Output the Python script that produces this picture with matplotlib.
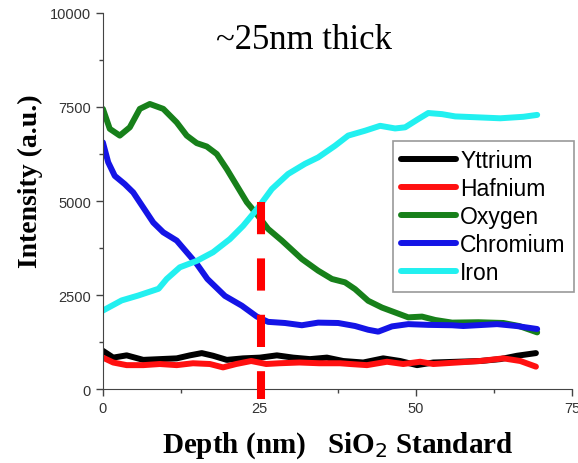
import matplotlib.pyplot as plt
from matplotlib.ticker import MultipleLocator

# depth (nm) / intensity (a.u.)
yttrium_x = [0, 1.65, 3.8, 6.45, 9.1, 11.8, 13.9, 15.8, 17.6, 19.8, 22.4, 25.1, 27.8, 30.4, 33.1, 35.8,
             38.4, 41.6, 44.8, 47.5, 50.2, 52.8, 56.6, 60.3, 63.5, 66.2, 69.2]
yttrium_y = [1020, 840, 900, 780, 800, 820, 900, 960, 890, 780, 820, 840, 900, 840, 800, 840,
             750, 710, 820, 750, 640, 710, 730, 750, 800, 890, 960]

hafnium_x = [0, 1.65, 3.8, 6.45, 9.1, 11.8, 14.4, 17.1, 19.2, 21.3, 23.7, 26.1, 28.2, 31.4, 34.6, 37.9,
             39.5, 42.2, 45.4, 48, 50.7, 52.8, 56.6, 60.3, 64, 66.7, 69.2]
hafnium_y = [840, 710, 640, 640, 670, 640, 690, 670, 580, 670, 750, 670, 690, 710, 690, 690,
             670, 640, 730, 670, 730, 670, 710, 750, 820, 750, 600]

oxygen_x = [0, 1.1, 2.7, 4.3, 5.9, 7.5, 9.65, 11.8, 13.4, 15, 16.6, 18.2, 19.8, 21.4, 23, 24.6, 26.4,
            28.6, 31.8, 34.4, 36.6, 38.7, 40.3, 42.4, 44.6, 46.7, 48.8, 51, 53.1, 55.8, 60, 64, 66.5, 69.4]
oxygen_y = [7450, 6920, 6740, 6960, 7450, 7580, 7450, 7090, 6740, 6540, 6450, 6250, 5850, 5410, 4970, 4650, 4260,
            3950, 3460, 3150, 2930, 2840, 2660, 2350, 2170, 2040, 1910, 1930, 1840, 1770, 1780, 1760, 1680, 1510]

chromium_x = [0, 0.85, 1.9, 3.5, 4.85, 6.45, 8.05, 9.65, 11.8, 13.4, 15, 16.7, 19.5, 22.2, 24.6, 26.4,
              29.1, 31.8, 34.4, 37.6, 40.3, 42.4, 44, 46.2, 48.8, 52, 55.8, 57.6, 63, 66.1, 69.4]
chromium_y = [6560, 6030, 5670, 5450, 5230, 4830, 4430, 4170, 3950, 3640, 3330, 2930, 2480, 2220, 1930, 1790,
              1760, 1700, 1770, 1760, 1680, 1580, 1530, 1670, 1730, 1710, 1700, 1680, 1730, 1680, 1600]

iron_x = [0, 3, 5.65, 8.9, 10.2, 12.3, 15, 17.6, 20.3, 22.4, 24.7, 27, 29.6, 32.3, 34.4, 37.1, 39.2,
          41.9, 44.3, 46.7, 48.3, 50.4, 52, 54.2, 56.3, 59.2, 63.5, 67.2, 69.4]
iron_y = [2090, 2360, 2490, 2670, 2930, 3240, 3410, 3640, 3990, 4340, 4800, 5320, 5720, 5990, 6160, 6470, 6740,
          6870, 7000, 6930, 6960, 7180, 7340, 7310, 7250, 7230, 7200, 7240, 7290]

series = [
    ("Yttrium", yttrium_x, yttrium_y, "black"),
    ("Hafnium", hafnium_x, hafnium_y, "#ff1010"),
    ("Oxygen", oxygen_x, oxygen_y, "#17801a"),
    ("Chromium", chromium_x, chromium_y, "#1414e6"),
    ("Iron", iron_x, iron_y, "#22f0f0"),
]

layer_depth = 25.2
layer_top = 4965

fig = plt.figure(figsize=(5.78, 4.64), dpi=100)
ax = fig.add_axes([0.178, 0.159, 0.812, 0.811])

for name, xs, ys, col in series:
    ax.plot(xs, ys, color=col, lw=4.3, label=name, solid_joinstyle='round', solid_capstyle='round')

# layer thickness marker
ax.plot([layer_depth, layer_depth], [layer_top, -250], color='red', lw=5.8,
        linestyle=(0, (4.0, 3.0)), dash_capstyle='butt', clip_on=False, zorder=5)

ax.set_xlim(0, 75)
ax.set_ylim(0, 10000)
ax.xaxis.set_major_locator(MultipleLocator(25))
ax.xaxis.set_minor_locator(MultipleLocator(12.5))
ax.yaxis.set_major_locator(MultipleLocator(2500))
ax.yaxis.set_minor_locator(MultipleLocator(1250))
ax.tick_params(which='major', direction='out', length=5, width=1, labelsize=10.5,
               labelcolor='#333333', labelfontfamily='Liberation Sans', color='#444444')
ax.tick_params(which='minor', direction='out', length=3, width=1, color='#444444')
for s in ['top', 'right']:
    ax.spines[s].set_visible(False)
for s in ['left', 'bottom']:
    ax.spines[s].set_color('#444444')

ax.set_ylabel("Intensity (a.u.)", fontsize=20, fontweight='bold', family='Liberation Serif')
ax.yaxis.set_label_coords(-0.128, 0.556)
ax.set_xlabel("Depth (nm)   SiO$_2$ Standard", fontsize=21, fontweight='bold', family='Liberation Serif', labelpad=10)

ax.text(0.429, 0.93, "~25nm thick", transform=ax.transAxes, fontsize=25,
        family='Liberation Serif', ha='center', va='center')

leg = ax.legend(loc='upper right', bbox_to_anchor=(1.003, 0.66), fancybox=False,
                edgecolor='#999999', framealpha=1, handlelength=2.4, handletextpad=0.2,
                labelspacing=0.22, borderpad=0.35, borderaxespad=0,
                prop={'family': 'Liberation Sans', 'size': 16.5})
leg.get_frame().set_linewidth(1.2)

fig.savefig("out.png", dpi=100)
